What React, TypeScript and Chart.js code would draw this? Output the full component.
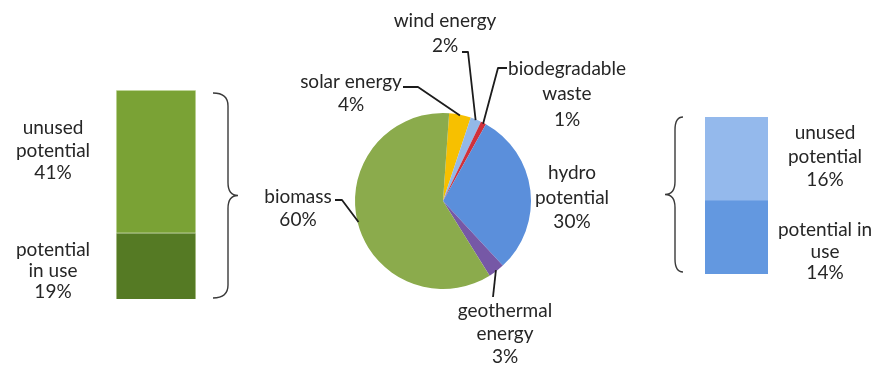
import React, { useEffect, useRef } from "react";
import { Chart, registerables } from "chart.js";

Chart.register(...registerables);

// ---------- data ----------
const pieLabels = ["solar energy", "wind energy", "biodegradable waste", "hydro potential", "geothermal energy", "biomass"];
const pieValues = [4, 2, 1, 30, 3, 60];
const pieColors = ["#f7c000", "#93b8e8", "#d0313b", "#5b8fdb", "#7658a6", "#8bab4c"];
const pieLabelLines = [
  ["solar energy"],
  ["wind energy"],
  ["biodegradable", "waste"],
  ["hydro", "potential"],
  ["geothermal", "energy"],
  ["biomass"],
];

const barCategories = ["potential"];
const biomassInUse = [19];
const biomassUnused = [41];
const hydroInUse = [14];
const hydroUnused = [16];
const inUseLinesLeft = ["potential", "in use"];
const unusedLines = ["unused", "potential"];
const inUseLinesRight = ["potential in", "use"];

// ---------- style / layout ----------
const FONT = "19px Lato";
const TEXT_COLOR = "#262626";
const LINE_COLOR = "#1c1c1c";
const W = 888;
const H = 368;
const LEFT_W = 245;
const MID_W = 405;
const RIGHT_W = W - LEFT_W - MID_W;

// label anchors (canvas coordinates of the middle canvas)
const pieLabelPos = [
  { x: 106, ys: [82, 105], leader: [[158, 87], [173, 87]] },
  { x: 200, ys: [21, 46], leader: [[217, 52], [223, 52]] },
  { x: 322, ys: [69, 94, 120], leader: [[262, 68], [253, 68]] },
  { x: 327, ys: [173, 198, 222], leader: null },
  { x: 260, ys: [311, 334, 357], leader: [[248, 297]] },
  { x: 53, ys: [197, 220], leader: [[90, 200], [97, 200]] },
];

function drawLines(ctx: CanvasRenderingContext2D, x: number, ys: number[], lines: string[]) {
  ctx.save();
  ctx.font = FONT;
  ctx.fillStyle = TEXT_COLOR;
  ctx.textAlign = "center";
  ctx.textBaseline = "middle";
  lines.forEach((t, i) => ctx.fillText(t, x, ys[i]));
  ctx.restore();
}

function drawBrace(
  ctx: CanvasRenderingContext2D,
  x: number,
  top: number,
  bottom: number,
  dir: number,
  arm: number,
  tip: number
) {
  const mid = (top + bottom) / 2;
  const r = 13;
  ctx.save();
  ctx.strokeStyle = "#3a3a3a";
  ctx.lineWidth = 1.4;
  ctx.beginPath();
  ctx.moveTo(x - dir * arm, top);
  ctx.quadraticCurveTo(x, top, x, top + r);
  ctx.lineTo(x, mid - r);
  ctx.quadraticCurveTo(x, mid, x + dir * tip, mid);
  ctx.quadraticCurveTo(x, mid, x, mid + r);
  ctx.lineTo(x, bottom - r);
  ctx.quadraticCurveTo(x, bottom, x - dir * arm, bottom);
  ctx.stroke();
  ctx.restore();
}

function gradientFill(c1: string, c2: string, dsIndex: number) {
  return (context: any) => {
    const chart = context.chart;
    const meta = chart.getDatasetMeta(dsIndex);
    const el = meta && meta.data && meta.data[0];
    if (!el || el.y === undefined || isNaN(el.y)) return c1;
    const top = Math.min(el.y, el.base);
    const bottom = Math.max(el.y, el.base);
    const g = chart.ctx.createLinearGradient(0, top, 0, bottom);
    g.addColorStop(0, c1);
    g.addColorStop(1, c2);
    return g;
  };
}

export default function App() {
  const leftRef = useRef<HTMLCanvasElement>(null);
  const midRef = useRef<HTMLCanvasElement>(null);
  const rightRef = useRef<HTMLCanvasElement>(null);

  useEffect(() => {
    const leftDecor = {
      id: "leftDecor",
      afterDraw(chart: any) {
        const ctx = chart.ctx;
        const ca = chart.chartArea;
        drawLines(ctx, 53, [128, 151, 173], [...unusedLines, `${biomassUnused[0]}%`]);
        drawLines(ctx, 53, [250, 271, 292], [...inUseLinesLeft, `${biomassInUse[0]}%`]);
        drawBrace(ctx, 228, ca.top + 3, ca.bottom - 1, 1, 15, 10);
      },
    };

    const rightDecor = {
      id: "rightDecor",
      afterDraw(chart: any) {
        const ctx = chart.ctx;
        const ca = chart.chartArea;
        drawLines(ctx, 175, [133, 157, 180], [...unusedLines, `${hydroUnused[0]}%`]);
        drawLines(ctx, 175, [230, 252, 273], [...inUseLinesRight, `${hydroInUse[0]}%`]);
        drawBrace(ctx, 25, ca.top, ca.bottom - 2, -1, 8, 10);
      },
    };

    const pieDecor = {
      id: "pieDecor",
      afterDraw(chart: any) {
        const ctx = chart.ctx;
        const meta = chart.getDatasetMeta(0);
        meta.data.forEach((arc: any, i: number) => {
          const p = pieLabelPos[i];
          const lines = [...pieLabelLines[i], `${pieValues[i]}%`];
          drawLines(ctx, p.x, p.ys, lines);
          if (p.leader) {
            const a = (arc.startAngle + arc.endAngle) / 2;
            const r = arc.outerRadius * 0.99;
            const ex = arc.x + Math.cos(a) * r;
            const ey = arc.y + Math.sin(a) * r;
            ctx.save();
            ctx.strokeStyle = LINE_COLOR;
            ctx.lineWidth = 1.8;
            ctx.lineJoin = "round";
            ctx.beginPath();
            p.leader.forEach((pt, k) => (k === 0 ? ctx.moveTo(pt[0], pt[1]) : ctx.lineTo(pt[0], pt[1])));
            ctx.lineTo(ex, ey);
            ctx.stroke();
            ctx.restore();
          }
        });
      },
    };

    const commonBar = (padding: any, max: number) => ({
      responsive: false,
      animation: false as const,
      layout: { padding },
      plugins: { legend: { display: false }, tooltip: { enabled: false } },
      scales: {
        x: { stacked: true, display: false },
        y: { stacked: true, display: false, min: 0, max },
      },
      datasets: { bar: { barPercentage: 1, categoryPercentage: 1 } },
    });

    const left = new Chart(leftRef.current!, {
      type: "bar",
      data: {
        labels: barCategories,
        datasets: [
          {
            label: "potential in use",
            data: biomassInUse,
            backgroundColor: "#557a24",
            borderColor: "rgba(140,170,80,0.45)",
            borderWidth: 1,
          },
          {
            label: "unused potential",
            data: biomassUnused,
            backgroundColor: "#7aa235",
            borderColor: "rgba(170,200,110,0.45)",
            borderWidth: 1,
          },
        ],
      },
      options: commonBar({ left: 116, right: 49, top: 90, bottom: 69 }, 60) as any,
      plugins: [leftDecor],
    });

    const mid = new Chart(midRef.current!, {
      type: "pie",
      data: {
        labels: pieLabels,
        datasets: [
          {
            data: pieValues,
            backgroundColor: pieColors,
            borderWidth: 0,
          },
        ],
      },
      options: {
        responsive: false,
        animation: false,
        rotation: 4,
        layout: { padding: { left: 110, right: 119, top: 113, bottom: 79 } },
        plugins: { legend: { display: false }, tooltip: { enabled: false } },
      } as any,
      plugins: [pieDecor],
    });

    const right = new Chart(rightRef.current!, {
      type: "bar",
      data: {
        labels: barCategories,
        datasets: [
          {
            label: "potential in use",
            data: hydroInUse,
            backgroundColor: gradientFill("#6398e0", "#5a8edc", 0),
            borderWidth: 0,
          },
          {
            label: "unused potential",
            data: hydroUnused,
            backgroundColor: gradientFill("#94b9ec", "#82ade8", 1),
            borderWidth: 0,
          },
        ],
      },
      options: commonBar({ left: 55, right: 120, top: 117, bottom: 94 }, 30) as any,
      plugins: [rightDecor],
    });

    return () => {
      left.destroy();
      mid.destroy();
      right.destroy();
    };
  }, []);

  return (
    <div
      style={{
        position: "fixed",
        left: 0,
        top: 0,
        width: W,
        height: H,
        background: "#ffffff",
        display: "flex",
      }}
    >
      <canvas ref={leftRef} width={LEFT_W} height={H} style={{ width: LEFT_W, height: H, display: "block" }} />
      <canvas ref={midRef} width={MID_W} height={H} style={{ width: MID_W, height: H, display: "block" }} />
      <canvas ref={rightRef} width={RIGHT_W} height={H} style={{ width: RIGHT_W, height: H, display: "block" }} />
    </div>
  );
}
